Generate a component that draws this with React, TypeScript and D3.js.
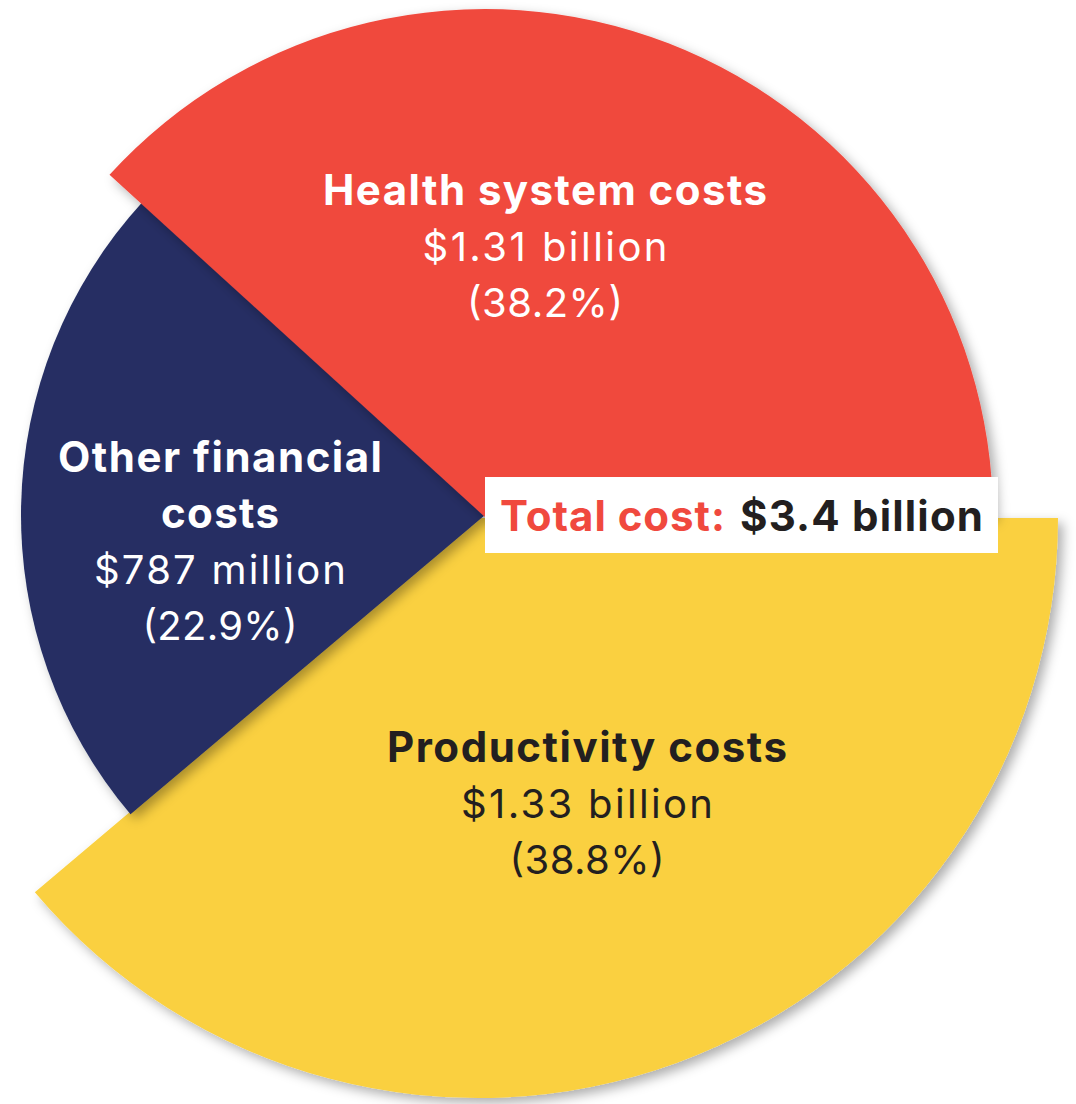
import React from "react";
import * as d3 from "d3";

// ---- data ----
const categories = ["Productivity costs", "Other financial costs", "Health system costs"];
const amounts = ["$1.33 billion", "$787 million", "$1.31 billion"];
const shares = [38.8, 22.9, 38.2];
const colors = ["#FAD03F", "#252E63", "#F0493E"];
const textColors = ["#231F20", "#FFFFFF", "#FFFFFF"];
const totalLabel = "Total cost:";
const totalValue = "$3.4 billion";

// ---- layout ----
const W = 1076;
const H = 1104;
// per-slice center and radius (slices are drawn with differing radii)
const sliceGeom = [
  { cx: 478, cy: 518, r: 580 },
  { cx: 485, cy: 515, r: 464 },
  { cx: 485, cy: 517, r: 508 },
];
// label blocks: title lines then amount and share; widths matched to reference
const labelLayout = [
  { x: 587, y: 762, title: ["Productivity costs"], widths: [400, 252, 155] },
  { x: 220, y: 472, title: ["Other financial", "costs"], widths: [324, 118, 252, 155] },
  { x: 545, y: 205, title: ["Health system costs"], widths: [444, 245, 156] },
];
const lineH = 56;
const FONT = "Inter, 'Noto Sans', sans-serif";

export default function App() {
  const pie = d3
    .pie<number>()
    .sort(null)
    .startAngle(Math.PI / 2)
    .endAngle(Math.PI / 2 + 2 * Math.PI)
    .value((d) => d);
  const arcsData = pie(shares);

  return (
    <svg width={W} height={H} style={{ display: "block", position: "absolute", left: 0, top: 0 }}>
      <defs>
        <filter id="sh" x="-20%" y="-20%" width="140%" height="140%">
          <feDropShadow dx="5" dy="5" stdDeviation="6" floodColor="#000" floodOpacity="0.32" />
        </filter>
      </defs>
      <rect width={W} height={H} fill="#fff" />
      {arcsData.map((a, i) => {
        const g = sliceGeom[i];
        const path = d3.arc<d3.PieArcDatum<number>>().innerRadius(0).outerRadius(g.r)(a) || "";
        return (
          <path
            key={i}
            d={path}
            transform={`translate(${g.cx},${g.cy})`}
            fill={colors[i]}
            filter="url(#sh)"
          />
        );
      })}
      {labelLayout.map((l, i) => {
        const lines = [...l.title, amounts[i], `(${shares[i].toFixed(1)}%)`];
        return (
          <g key={i}>
            {lines.map((t, j) => {
              const bold = j < l.title.length;
              return (
                <text
                  key={j}
                  x={l.x}
                  y={l.y + j * lineH}
                  textAnchor="middle"
                  fill={textColors[i]}
                  fontFamily={FONT}
                  fontSize={bold ? 42 : 40}
                  fontWeight={bold ? 700 : 400}
                  textLength={l.widths[j]}
                  lengthAdjust="spacing"
                >
                  {t}
                </text>
              );
            })}
          </g>
        );
      })}
      <rect x={485} y={477} width={513} height={76} fill="#fff" />
      <text x={500} y={531} fontFamily={FONT} fontSize={42} fontWeight={700} fill="#F0493E" textLength={225} lengthAdjust="spacing">
        {totalLabel}
      </text>
      <text x={740} y={531} fontFamily={FONT} fontSize={42} fontWeight={700} fill="#231F20" textLength={243} lengthAdjust="spacing">
        {totalValue}
      </text>
    </svg>
  );
}
